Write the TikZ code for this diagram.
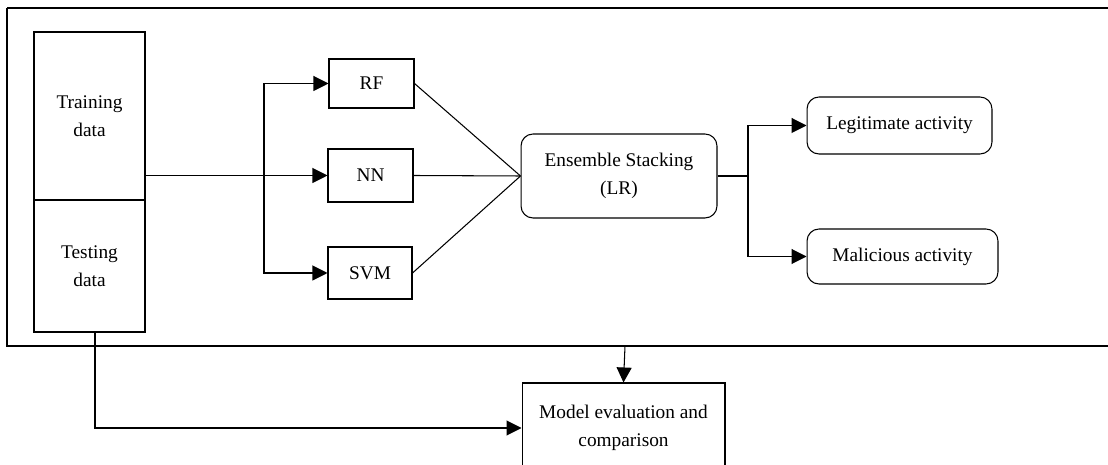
\documentclass[tikz,border=0pt]{standalone}
\usepackage{fontspec}
\setmainfont{Liberation Serif}
\usetikzlibrary{arrows.meta,positioning,calc}

\begin{document}
\begin{tikzpicture}[x=0.02cm,y=-0.02cm,line width=0.6pt,
  font=\fontsize{11}{16}\selectfont,
  box/.style={draw,align=center,inner sep=2pt},
  rbox/.style={box,rounded corners=0.24cm},
  arr/.style={-{Triangle[length=0.3cm,width=0.3cm]}}]
\clip (0,0) rectangle (1108,465);
\draw (7,8) -- (1130,8) (7,8) -- (7,346) -- (1130,346);
\node[box,minimum width=2.22cm,minimum height=3.36cm] (train) at (89.5,116) {Training\\data};
\node[box,minimum width=2.22cm,minimum height=2.64cm] (test) at (89.5,266) {Testing\\data};
\node[box,minimum width=1.7cm,minimum height=0.98cm] (rf) at (371.5,83.5) {RF};
\node[box,minimum width=1.7cm,minimum height=1.06cm] (nn) at (370.5,175.5) {NN};
\node[box,minimum width=1.68cm,minimum height=1.04cm] (svm) at (370,273) {SVM};
\node[rbox,minimum width=3.92cm,minimum height=1.68cm] (ens) at (619,176) {Ensemble Stacking\\(LR)};
\node[rbox,minimum width=3.7cm,minimum height=1.14cm] (legit) at (899.5,125.5) {Legitimate activity};
\node[rbox,minimum width=3.82cm,minimum height=1.1cm] (mal) at (902.5,256.5) {Malicious activity};
\node[box,minimum width=4.06cm,minimum height=1.8cm] (eval) at (623.5,428) {Model evaluation and\\comparison};
\coordinate (split) at (264,175.5);
\coordinate (join) at (748,176);
\coordinate (framebot) at (625,346);
\coordinate (testout) at ($(test.south)+(5.5,0)$);
\draw[arr] (nn.west -| train.east) -- (nn.west);
\draw[arr] (split) |- (rf.west);
\draw[arr] (split) |- (svm.west);
\foreach \m in {rf,nn,svm}{
  \draw (\m.east) -- (ens.west);
}
\draw (ens.east) -- (join);
\draw[arr] (join) |- (legit.west);
\draw[arr] (join) |- (mal.west);
\draw[arr] (framebot) -- (eval.north);
\draw[arr] (testout) |- (eval.west);
\end{tikzpicture}
\end{document}
